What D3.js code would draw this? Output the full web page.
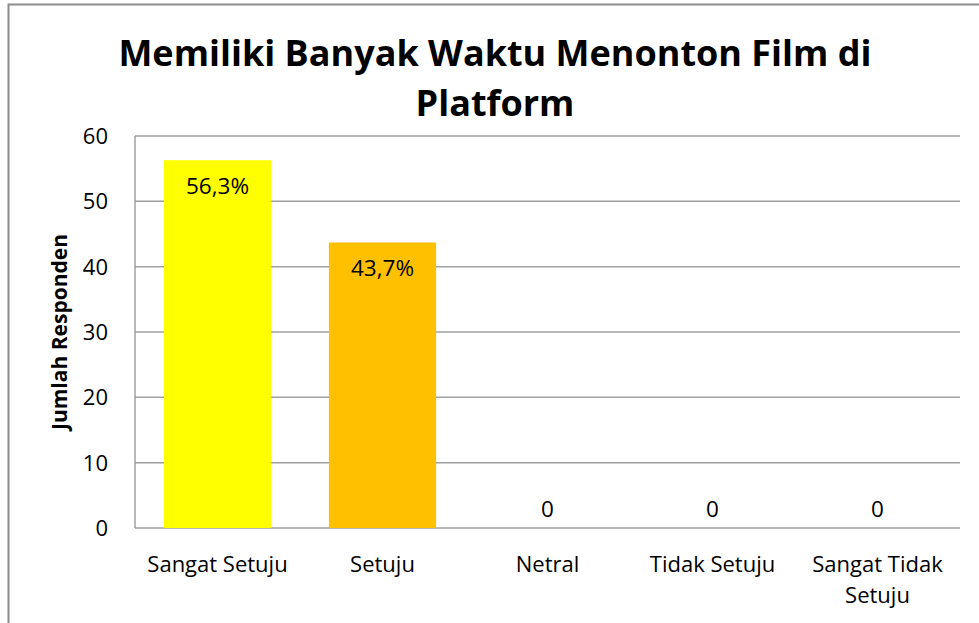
<!DOCTYPE html>
<html>
<head>
<meta charset="utf-8">
<script src="https://cdn.jsdelivr.net/npm/d3@7"></script>
<style>
  body { margin: 0; background: #fff; }
  text { font-family: "Open Sans", sans-serif; fill: #000; }
</style>
</head>
<body>
<div id="chart"></div>
<script>
const categories = ["Sangat Setuju", "Setuju", "Netral", "Tidak Setuju", "Sangat Tidak Setuju"];
const values = [56.3, 43.7, 0, 0, 0];
const valueLabels = ["56,3%", "43,7%", "0", "0", "0"];
const barColors = ["#ffff00", "#ffc000", "#ffc000", "#ffc000", "#ffc000"];
const yTicks = [0, 10, 20, 30, 40, 50, 60];
const titleLines = ["Memiliki Banyak Waktu Menonton Film di", "Platform"];
const yTitle = "Jumlah Responden";

const width = 979;
const height = 623;
const margin = {top: 136, right: 19, bottom: 95, left: 135};

const svg = (d3.select("#chart").append("svg")
             .attr("width", width)
             .attr("height", height)
             .attr("viewBox", [0, 0, width, height]));

// outer frame (only top and left edges are inside the picture)
svg.append("path")
  .attr("d", `M8.5,${height} L8.5,4.5 L${width},4.5`)
  .attr("fill", "none")
  .attr("stroke", "#8c8c8c")
  .attr("stroke-width", 2);

const x = (d3.scaleBand()
           .domain(categories)
           .range([margin.left, width - margin.right])
           .paddingInner(0.35)
           .paddingOuter(0.175));

const y = (d3.scaleLinear()
           .domain([0, 60])
           .range([height - margin.bottom, margin.top]));

// title
svg.append("g")
  .selectAll("text")
  .data(titleLines)
  .join("text")
  .attr("x", 495)
  .attr("y", (d, i) => 66 + i * 50)
  .attr("text-anchor", "middle")
  .attr("font-size", 36)
  .attr("font-weight", "bold")
  .text(d => d);

// gridlines
svg.append("g")
  .attr("stroke", "#a0a0a0")
  .attr("stroke-width", 1.5)
  .selectAll("line")
  .data(yTicks)
  .join("line")
  .attr("x1", margin.left)
  .attr("x2", width - margin.right)
  .attr("y1", d => y(d))
  .attr("y2", d => y(d));

// y axis line
svg.append("line")
  .attr("x1", margin.left)
  .attr("x2", margin.left)
  .attr("y1", y(60))
  .attr("y2", y(0))
  .attr("stroke", "#a0a0a0")
  .attr("stroke-width", 1.5);

// y tick labels
svg.append("g")
  .selectAll("text")
  .data(yTicks)
  .join("text")
  .attr("x", 108)
  .attr("y", d => y(d))
  .attr("dy", "0.36em")
  .attr("text-anchor", "end")
  .attr("font-size", 22)
  .text(d => d);

// y axis title
svg.append("text")
  .attr("transform", `translate(67,${(y(0) + y(60)) / 2}) rotate(-90)`)
  .attr("text-anchor", "middle")
  .attr("font-size", 21)
  .attr("font-weight", "bold")
  .text(yTitle);

// bars
svg.append("g")
  .selectAll("rect")
  .data(values)
  .join("rect")
  .attr("x", (d, i) => x(categories[i]))
  .attr("y", d => y(d))
  .attr("width", x.bandwidth())
  .attr("height", d => y(0) - y(d))
  .attr("fill", (d, i) => barColors[i]);

// value labels
svg.append("g")
  .selectAll("text")
  .data(values)
  .join("text")
  .attr("x", (d, i) => x(categories[i]) + x.bandwidth() / 2)
  .attr("y", d => d > 0 ? y(d) + 34 : y(0) - 11)
  .attr("text-anchor", "middle")
  .attr("font-size", 22.5)
  .text((d, i) => valueLabels[i]);

// category labels (wrap long one in two lines)
const catLines = categories.map(c => c === "Sangat Tidak Setuju" ? ["Sangat Tidak", "Setuju"] : [c]);
svg.append("g")
  .selectAll("text")
  .data(catLines)
  .join("text")
  .attr("x", (d, i) => x(categories[i]) + x.bandwidth() / 2)
  .attr("y", 572)
  .attr("text-anchor", "middle")
  .attr("font-size", 22)
  .selectAll("tspan")
  .data(d => d)
  .join("tspan")
  .attr("x", function() { return this.parentNode.getAttribute("x"); })
  .attr("dy", (d, i) => i === 0 ? 0 : 31)
  .text(d => d);
</script>
</body>
</html>
